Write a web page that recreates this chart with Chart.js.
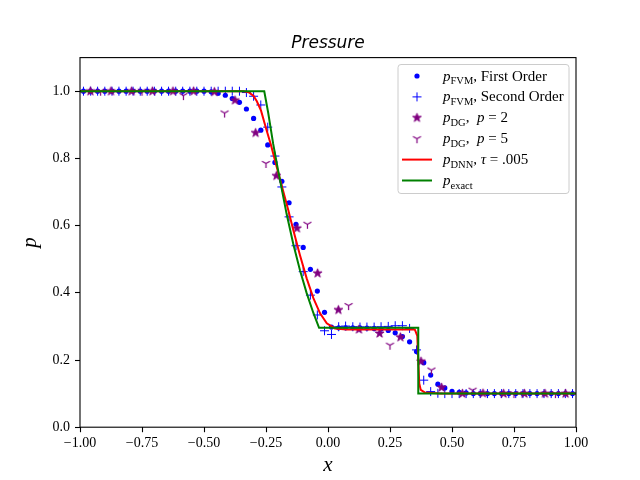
<!DOCTYPE html>
<html>
<head>
<meta charset="utf-8">
<script src="https://cdn.jsdelivr.net/npm/chart.js@4.4.0/dist/chart.umd.min.js"></script>
<style>
  html, body { margin: 0; padding: 0; background: #fff; }
</style>
</head>
<body>
<canvas id="chart" width="640" height="480"></canvas>
<script>
// FVM cell centres (70 cells)
const fvmX = [
  -0.986, -0.957, -0.929, -0.900, -0.871, -0.843, -0.814, -0.786, -0.757, -0.729,
  -0.700, -0.671, -0.643, -0.614, -0.586, -0.557, -0.529, -0.500, -0.471, -0.443,
  -0.414, -0.386, -0.357, -0.329, -0.300, -0.271, -0.243, -0.214, -0.186, -0.157,
  -0.129, -0.100, -0.071, -0.043, -0.014, 0.014, 0.043, 0.071, 0.100, 0.129,
  0.157, 0.186, 0.214, 0.243, 0.271, 0.300, 0.329, 0.357, 0.386, 0.414,
  0.443, 0.471, 0.500, 0.529, 0.557, 0.586, 0.614, 0.643, 0.671, 0.700,
  0.729, 0.757, 0.786, 0.814, 0.843, 0.871, 0.900, 0.929, 0.957, 0.986
];
const fvmFirst = [
  1.0, 1.0, 1.0, 1.0, 1.0, 1.0, 1.0, 1.0, 1.0, 1.0,
  1.0, 1.0, 1.0, 1.0, 1.0, 1.0, 1.0, 1.0, 0.998, 0.994,
  0.988, 0.978, 0.967, 0.947, 0.919, 0.884, 0.840, 0.788, 0.732, 0.668,
  0.604, 0.535, 0.470, 0.405, 0.342, 0.298, 0.296, 0.296, 0.296, 0.296,
  0.295, 0.294, 0.292, 0.288, 0.281, 0.270, 0.254, 0.225, 0.192, 0.155,
  0.128, 0.117, 0.107, 0.104, 0.102, 0.1, 0.1, 0.1, 0.1, 0.1,
  0.1, 0.1, 0.1, 0.1, 0.1, 0.1, 0.1, 0.1, 0.1, 0.1
];
const fvmSecond = [
  1.0, 1.0, 1.0, 1.0, 1.0, 1.0, 1.0, 1.0, 1.0, 1.0,
  1.0, 1.0, 1.0, 1.0, 1.0, 1.0, 1.0, 1.0, 1.0, 1.0,
  1.0, 1.0, 1.0, 0.996, 0.985, 0.959, 0.893, 0.807, 0.715, 0.626,
  0.540, 0.463, 0.393, 0.334, 0.287, 0.276, 0.299, 0.301, 0.299, 0.298,
  0.298, 0.298, 0.299, 0.300, 0.302, 0.302, 0.294, 0.230, 0.140, 0.106,
  0.101, 0.1, 0.1, 0.1, 0.1, 0.1, 0.1, 0.1, 0.1, 0.1,
  0.1, 0.1, 0.1, 0.1, 0.1, 0.1, 0.1, 0.1, 0.1, 0.1
];

// DG p=2 points
const dg2X = [
  -0.958, -0.875, -0.792, -0.708, -0.625, -0.542, -0.458, -0.375, -0.292, -0.208, -0.125, -0.042,
  0.042, 0.125, 0.208, 0.292, 0.375, 0.458, 0.542, 0.625, 0.708, 0.792, 0.875, 0.958
];
const dg2P = [
  1.0, 1.0, 1.0, 1.0, 1.0, 1.0, 0.998, 0.973, 0.876, 0.748, 0.592, 0.458,
  0.349, 0.291, 0.279, 0.268, 0.196, 0.118, 0.100, 0.101, 0.100, 0.100, 0.100, 0.100
];

// DG p=5 points
const dg5X = [-0.917, -0.750, -0.583, -0.417, -0.250, -0.083, 0.083, 0.250, 0.417, 0.583, 0.750, 0.917];
const dg5P = [1.0, 1.0, 0.987, 0.935, 0.785, 0.604, 0.362, 0.244, 0.170, 0.110, 0.100, 0.100];

// DNN solution, tau = .005
const dnnX = [-1.0, -0.34, -0.32, -0.30, -0.287, -0.27, -0.25, -0.23, -0.21, -0.187, -0.16, -0.14,
  -0.113, -0.086, -0.059, -0.032, -0.005, 0.028, 0.075, 0.35, 0.36, 0.364, 0.368, 0.374, 0.391, 0.45, 1.0];
const dnnP = [1.0, 1.0, 0.997, 0.986, 0.970, 0.942, 0.890, 0.840, 0.783, 0.720, 0.646, 0.587,
  0.512, 0.443, 0.384, 0.339, 0.309, 0.294, 0.291, 0.291, 0.272, 0.200, 0.130, 0.111, 0.103, 0.100, 0.100];

// exact solution
const exactX = [-1.0, -0.257, -0.241, -0.221, -0.200, -0.167, -0.140, -0.113, -0.086, -0.059, -0.036, 0.364, 0.364, 1.0];
const exactP = [1.0, 1.0, 0.935, 0.843, 0.760, 0.635, 0.545, 0.467, 0.399, 0.340, 0.296, 0.296, 0.100, 0.100];

const xTicks = [-1, -0.75, -0.5, -0.25, 0, 0.25, 0.5, 0.75, 1];
const yTicks = [0, 0.2, 0.4, 0.6, 0.8, 1.0];

// legend labels: i = italic, s = subscript
const seriesLabels = [
  [{ t: 'p', i: 1 }, { t: 'FVM', s: 1 }, { t: ', First Order' }],
  [{ t: 'p', i: 1 }, { t: 'FVM', s: 1 }, { t: ', Second Order' }],
  [{ t: 'p', i: 1 }, { t: 'DG', s: 1 }, { t: ',  ' }, { t: 'p', i: 1 }, { t: ' = 2' }],
  [{ t: 'p', i: 1 }, { t: 'DG', s: 1 }, { t: ',  ' }, { t: 'p', i: 1 }, { t: ' = 5' }],
  [{ t: 'p', i: 1 }, { t: 'DNN', s: 1 }, { t: ', ' }, { t: 'τ', i: 1 }, { t: ' = .005' }],
  [{ t: 'p', i: 1 }, { t: 'exact', s: 1 }]
];

const BLUE = '#0000ff', PURPLE = '#800080', RED = '#ff0000', GREEN = '#008000';
const SERIF = '"Liberation Serif", "DejaVu Serif", serif';

function pts(xs, ys) {
  return xs.map((x, i) => ({ x: x, y: ys[i] }));
}

// filled five point star, like matplotlib '*'
function starMarker(r, color) {
  const s = Math.ceil(r * 2 + 3);
  const c = document.createElement('canvas');
  c.width = c.height = s;
  const g = c.getContext('2d');
  g.translate(s / 2, s / 2);
  g.beginPath();
  for (let k = 0; k < 10; k++) {
    const rad = k % 2 ? r * 0.382 : r;
    const a = -Math.PI / 2 + k * Math.PI / 5;
    g.lineTo(rad * Math.cos(a), rad * Math.sin(a));
  }
  g.closePath();
  g.fillStyle = color;
  g.fill();
  g.strokeStyle = color;
  g.lineWidth = 1;
  g.stroke();
  return c;
}

// tri_down marker, like matplotlib '1'
function triMarker(r, color) {
  const s = Math.ceil(r * 2 + 3);
  const c = document.createElement('canvas');
  c.width = c.height = s;
  const g = c.getContext('2d');
  g.translate(s / 2, s / 2);
  g.strokeStyle = color;
  g.lineWidth = 1.2;
  g.beginPath();
  g.moveTo(0, 0); g.lineTo(0, r);
  g.moveTo(0, 0); g.lineTo(-r * 0.866, -r * 0.5);
  g.moveTo(0, 0); g.lineTo(r * 0.866, -r * 0.5);
  g.stroke();
  return c;
}

const starImg = starMarker(4.6, PURPLE);
const triImg = triMarker(4.6, PURPLE);

function fmtX(v) {
  return (v < 0 ? '\u2212' : '') + Math.abs(v).toFixed(2);
}

// axes frame on all four sides
const framePlugin = {
  id: 'frame',
  afterDatasetsDraw(chart) {
    const { ctx, chartArea: a } = chart;
    ctx.save();
    ctx.strokeStyle = '#000';
    ctx.lineWidth = 1.1;
    ctx.strokeRect(a.left, a.top, a.right - a.left, a.bottom - a.top);
    ctx.restore();
  }
};

function drawRich(ctx, x, y, parts) {
  parts.forEach(p => {
    const size = p.s ? 10.5 : 15;
    ctx.font = (p.i ? 'italic ' : '') + size + 'px ' + SERIF;
    ctx.fillText(p.t, x, p.s ? y + 3.5 : y);
    x += ctx.measureText(p.t).width;
  });
}

// matplotlib-like legend box
const legendPlugin = {
  id: 'mplLegend',
  afterDraw(chart) {
    const ctx = chart.ctx;
    const bx = 398, by = 64.5, bw = 171, bh = 129;
    ctx.save();
    ctx.beginPath();
    ctx.roundRect(bx, by, bw, bh, 3);
    ctx.fillStyle = 'rgba(255,255,255,0.8)';
    ctx.fill();
    ctx.strokeStyle = '#cccccc';
    ctx.lineWidth = 1;
    ctx.stroke();

    const mx = 417, lx0 = 402, lx1 = 432, tx = 443;
    seriesLabels.forEach((parts, k) => {
      const y = 76 + k * 20.9;
      if (k === 0) {
        ctx.beginPath();
        ctx.arc(mx, y, 2.6, 0, Math.PI * 2);
        ctx.fillStyle = BLUE;
        ctx.fill();
      } else if (k === 1) {
        ctx.beginPath();
        ctx.moveTo(mx - 4.5, y); ctx.lineTo(mx + 4.5, y);
        ctx.moveTo(mx, y - 4.5); ctx.lineTo(mx, y + 4.5);
        ctx.strokeStyle = BLUE;
        ctx.lineWidth = 1;
        ctx.stroke();
      } else if (k === 2) {
        ctx.drawImage(starImg, mx - starImg.width / 2, y - starImg.height / 2);
      } else if (k === 3) {
        ctx.drawImage(triImg, mx - triImg.width / 2, y - triImg.height / 2);
      } else {
        ctx.beginPath();
        ctx.moveTo(lx0, y); ctx.lineTo(lx1, y);
        ctx.strokeStyle = k === 4 ? RED : GREEN;
        ctx.lineWidth = 2;
        ctx.stroke();
      }
      ctx.fillStyle = '#000';
      ctx.textBaseline = 'alphabetic';
      ctx.textAlign = 'left';
      drawRich(ctx, tx, y + 4.5, parts);
    });
    ctx.restore();
  }
};

const tickFont = { family: SERIF, size: 14 };

new Chart(document.getElementById('chart').getContext('2d'), {
  type: 'scatter',
  data: {
    datasets: [
      {
        label: 'FVM first order',
        data: pts(fvmX, fvmFirst),
        pointStyle: 'circle',
        pointRadius: 2.6,
        backgroundColor: BLUE,
        borderWidth: 0,
        order: 5
      },
      {
        label: 'FVM second order',
        data: pts(fvmX, fvmSecond),
        pointStyle: 'cross',
        pointRadius: 4.5,
        borderColor: BLUE,
        borderWidth: 1,
        order: 4
      },
      {
        label: 'DG p=2',
        data: pts(dg2X, dg2P),
        pointStyle: starImg,
        order: 3
      },
      {
        label: 'DG p=5',
        data: pts(dg5X, dg5P),
        pointStyle: triImg,
        order: 2
      },
      {
        label: 'DNN',
        data: pts(dnnX, dnnP),
        showLine: true,
        borderColor: RED,
        borderWidth: 2,
        pointRadius: 0,
        tension: 0,
        order: 1
      },
      {
        label: 'exact',
        data: pts(exactX, exactP),
        showLine: true,
        borderColor: GREEN,
        borderWidth: 2,
        pointRadius: 0,
        tension: 0,
        order: 0
      }
    ]
  },
  options: {
    responsive: false,
    animation: false,
    devicePixelRatio: 1,
    layout: { padding: { left: 0, right: 64, top: 0, bottom: 0 } },
    plugins: {
      legend: { display: false },
      tooltip: { enabled: false },
      title: {
        display: true,
        fullSize: false,
        text: 'Pressure',
        color: '#000',
        font: { family: '"DejaVu Sans", sans-serif', size: 17, style: 'italic', weight: 'normal', lineHeight: 1.2 },
        padding: { top: 33.5, bottom: 3.7 }
      }
    },
    scales: {
      x: {
        type: 'linear',
        min: -1,
        max: 1,
        afterBuildTicks: s => { s.ticks = xTicks.map(v => ({ value: v })); },
        afterFit: s => { s.height = 52.8; },
        ticks: { callback: v => fmtX(v), color: '#000', font: tickFont, padding: 3, maxRotation: 0 },
        grid: { display: true, drawOnChartArea: false, drawTicks: true, tickLength: 5, color: '#000', tickWidth: 1.1 },
        border: { display: false },
        title: {
          display: true,
          text: 'x',
          color: '#000',
          font: { family: SERIF, size: 21, style: 'italic', lineHeight: 1 },
          padding: { top: 0, bottom: 4 }
        }
      },
      y: {
        type: 'linear',
        min: 0,
        max: 1.1,
        afterBuildTicks: s => { s.ticks = yTicks.map(v => ({ value: v })); },
        afterFit: s => { s.width = 80; },
        ticks: { callback: v => v.toFixed(1), color: '#000', font: tickFont, padding: 5 },
        grid: { display: true, drawOnChartArea: false, drawTicks: true, tickLength: 5, color: '#000', tickWidth: 1.1 },
        border: { display: false },
        title: {
          display: true,
          text: 'p',
          color: '#000',
          font: { family: SERIF, size: 21, style: 'italic', lineHeight: 1 },
          padding: { top: 20, bottom: 0 }
        }
      }
    }
  },
  plugins: [framePlugin, legendPlugin]
});
</script>
</body>
</html>
